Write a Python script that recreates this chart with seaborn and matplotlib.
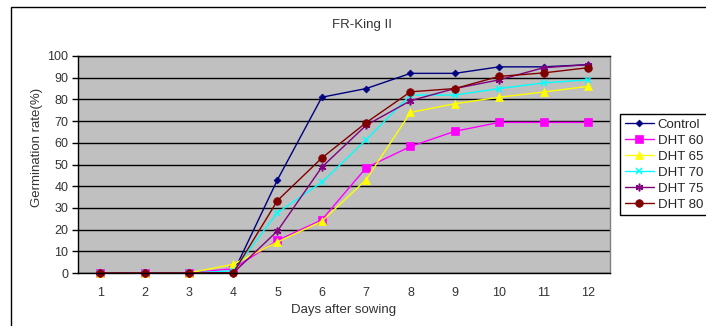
import pandas as pd
import matplotlib
matplotlib.use("Agg")
import matplotlib.pyplot as plt
import matplotlib.patches as patches
from matplotlib.ticker import MultipleLocator, FixedLocator
import seaborn as sns

# Data
days = [1, 2, 3, 4, 5, 6, 7, 8, 9, 10, 11, 12]
control = [0, 0, 0, 0, 43, 81, 85, 92, 92, 95, 95, 96]
dht60 = [0, 0, 0, 2, 15, 24.5, 48.5, 58.3, 65.3, 69.4, 69.4, 69.4]
dht65 = [0, 0, 0, 4, 14.3, 23.8, 43, 74, 78, 81, 83.4, 86]
dht70 = [0, 0, 0, 1, 27.8, 41.8, 61.4, 82, 82, 85, 87.6, 89]
dht75 = [0, 0, 0, 0, 19.4, 48.8, 68.1, 79.4, 85, 89, 94.6, 96]
dht80 = [0, 0, 0, 0, 33.4, 53, 69.3, 83.5, 85, 90.6, 92.2, 94.6]

series_names = ["Control", "DHT 60", "DHT 65", "DHT 70", "DHT 75", "DHT 80"]
series_values = [control, dht60, dht65, dht70, dht75, dht80]

colors = ["#000080", "#FF00FF", "#FFFF00", "#00FFFF", "#800080", "#800000"]
markers = ["D", "s", "^", "x", (6, 2, 0), "o"]
msizes = [3.5, 5.5, 5.5, 4.5, 5.5, 5.5]

sns.set_style("white")
plt.rcParams["font.family"] = ["Liberation Sans", "DejaVu Sans"]
plt.rcParams["font.size"] = 9

frames = []
for name, vals in zip(series_names, series_values):
    frames.append(pd.DataFrame({"day": days, "rate": vals, "series": name}))
df = pd.concat(frames, ignore_index=True)

W, H = 706, 326
fig = plt.figure(figsize=(W / 100, H / 100), dpi=100)
ax = fig.add_axes([78 / W, 1 - 273 / H, (610 - 78) / W, (273 - 56) / H])
ax.set_facecolor("#C0C0C0")

for name, col, mk, ms in zip(series_names, colors, markers, msizes):
    sub = df[df["series"] == name]
    sns.lineplot(data=sub, x="day", y="rate", ax=ax, color=col, marker=mk,
                 markersize=ms, markeredgecolor=col,
                 markeredgewidth=1.1 if mk in ("x", (6, 2, 0)) else 0.5,
                 linewidth=1, label=name, clip_on=False)

ax.set_xlim(0.5, 12.5)
ax.set_ylim(0, 100)
ax.xaxis.set_major_locator(FixedLocator(days))
ax.xaxis.set_minor_locator(FixedLocator([d + 0.5 for d in days[:-1]]))
ax.yaxis.set_major_locator(MultipleLocator(10))
ax.tick_params(axis="x", which="major", length=0, pad=10, labelcolor="#333333")
ax.tick_params(axis="x", which="minor", length=4, direction="in", color="black", width=1)
ax.tick_params(axis="y", which="major", length=4, direction="out", color="black", width=1,
               pad=3, labelcolor="#333333", left=True)
ax.grid(axis="y", color="black", linewidth=1)
ax.grid(axis="x", visible=False)
ax.set_axisbelow(True)

for side in ["left", "bottom", "top"]:
    ax.spines[side].set_color("black")
    ax.spines[side].set_linewidth(1)
ax.spines["right"].set_color("#808080")
ax.spines["right"].set_linewidth(1)

ax.set_xlabel("")
ax.set_ylabel("")
fig.text(344 / W, 1 - 310 / H, "Days after sowing", ha="center", va="center",
         color="#333333", fontsize=9.5)
fig.text(37 / W, 1 - 147 / H, "Germination rate(%)", ha="center", va="center",
         rotation=90, color="#333333", fontsize=9.5)
fig.text(362 / W, 1 - 25 / H, "FR-King II", ha="center", va="center",
         color="#333333", fontsize=9.5)

ax.legend(loc="upper left", bbox_to_anchor=(620 / W, 1 - 114 / H),
          bbox_transform=fig.transFigure, frameon=True, fancybox=False,
          edgecolor="black", framealpha=1, borderaxespad=0, handlelength=2.2,
          labelspacing=0.28, borderpad=0.35, handletextpad=0.3, fontsize=9.5)
leg = ax.get_legend()
leg.get_frame().set_linewidth(1)

# outer chart border
fig.patches.append(patches.Rectangle((11 / W, -0.1), 1.2, 1 - 7 / H + 0.1,
                                     transform=fig.transFigure, fill=False,
                                     edgecolor="black", linewidth=1))

fig.savefig("out.png", dpi=100)
